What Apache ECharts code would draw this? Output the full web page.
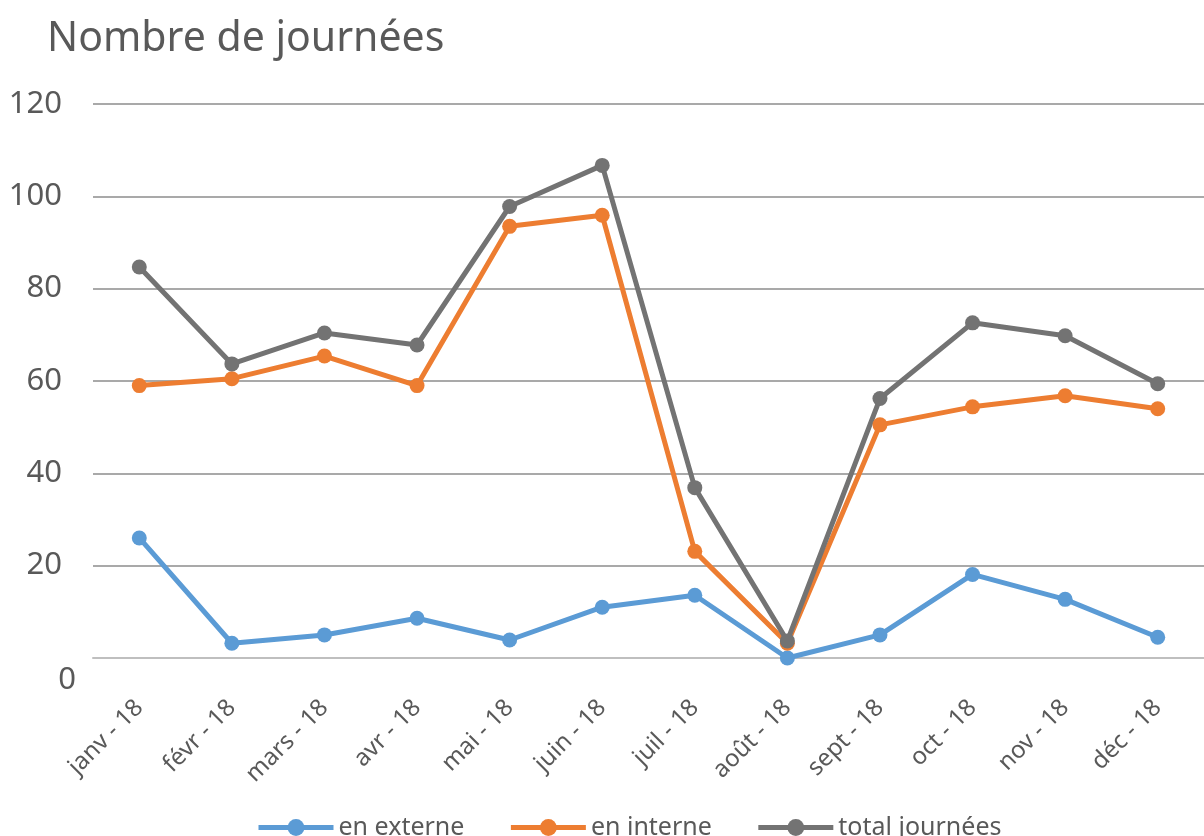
<!DOCTYPE html>
<html>
<head>
<meta charset="utf-8">
<script src="https://cdn.jsdelivr.net/npm/echarts@6/dist/echarts.min.js"></script>
<style>
  html, body { margin: 0; padding: 0; background: #fff; }
  #chart { width: 1204px; height: 836px; }
</style>
</head>
<body>
<div id="chart"></div>
<script>
// données
const months = ['janv - 18', 'févr - 18', 'mars - 18', 'avr - 18', 'mai - 18', 'juin - 18',
  'juil - 18', 'août - 18', 'sept - 18', 'oct - 18', 'nov - 18', 'déc - 18']
const externe = [26, 3.2, 5, 8.6, 3.9, 11, 13.6, 0, 5, 18.1, 12.7, 4.5]
const interne = [59, 60.5, 65.4, 59, 93.5, 95.9, 23.1, 3.2, 50.5, 54.4, 56.8, 54]
const total = [84.7, 63.7, 70.4, 67.8, 97.8, 106.7, 36.9, 3.7, 56.2, 72.6, 69.8, 59.4]
const seriesNames = ['en externe', 'en interne', 'total journées']

const FONT = 'Noto Sans'
const TXT = '#595959'

const chart = echarts.init(document.getElementById('chart'))

const mkSeries = (name, data, color) => ({
  name: name,
  type: 'line',
  data: data,
  symbol: 'circle',
  symbolSize: 15,
  lineStyle: { width: 5, color: color },
  itemStyle: { color: color },
  emphasis: { disabled: true },
})

const option = {
  animation: false,
  textStyle: { fontFamily: FONT },
  title: {
    text: 'Nombre de journées',
    left: 42,
    top: 14,
    textStyle: { fontFamily: FONT, fontSize: 41, fontWeight: 'normal', color: TXT },
  },
  legend: {
    bottom: -9,
    left: 251,
    itemWidth: 75,
    itemHeight: 21,
    itemGap: 44,
    data: seriesNames,
    lineStyle: { width: 5 },
    textStyle: { fontFamily: FONT, fontSize: 25, color: TXT },
  },
  grid: {
    left: 93,
    right: -9,
    top: 104,
    bottom: 178,
  },
  xAxis: {
    type: 'category',
    data: months,
    boundaryGap: true,
    axisLine: { lineStyle: { color: '#bfbfbf', width: 2 } },
    axisTick: { length: 12, lineStyle: { color: '#a6a6a6', width: 2 } },
    axisLabel: {
      rotate: 45,
      margin: 46,
      fontFamily: FONT,
      fontSize: 24,
      color: TXT,
    },
  },
  yAxis: {
    type: 'value',
    min: 0,
    max: 120,
    interval: 20,
    axisLine: { show: false },
    axisTick: { show: false },
    splitLine: { lineStyle: { color: '#8c8c8c', width: 1.5 } },
    axisLabel: {
      margin: 17,
      formatter: (v) => (v === 0 ? '{z|0}' : '{n|' + v + '}'),
      rich: {
        n: { fontFamily: FONT, fontSize: 31, color: TXT, padding: [0, 14, 0, 0] },
        z: { fontFamily: FONT, fontSize: 31, color: TXT, padding: [44, 0, 0, 0] },
      },
    },
  },
  series: [
    mkSeries(seriesNames[0], externe, '#5b9bd5'),
    mkSeries(seriesNames[1], interne, '#ed7d31'),
    mkSeries(seriesNames[2], total, '#737373'),
  ],
}

chart.setOption(option)
</script>
</body>
</html>
